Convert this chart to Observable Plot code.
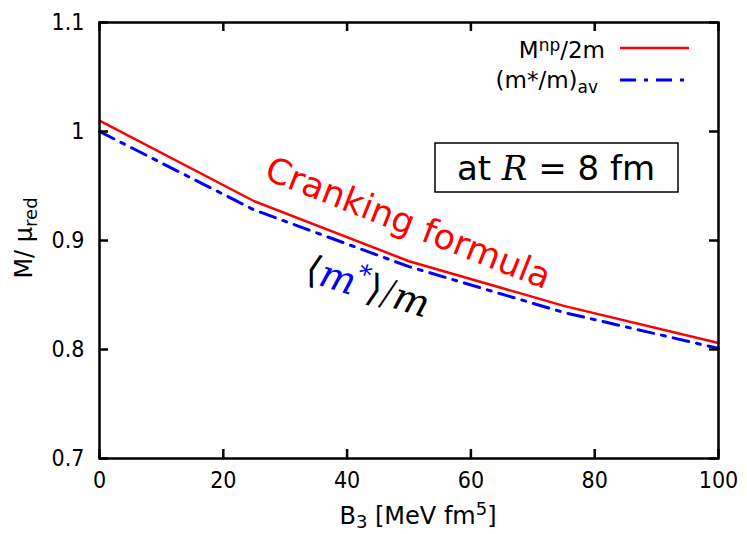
<!DOCTYPE html>
<html><head><meta charset="utf-8">
<script src="https://cdn.jsdelivr.net/npm/d3@7"></script>
<script src="https://cdn.jsdelivr.net/npm/@observablehq/plot@0.6"></script>
<style>body{margin:0;background:#fff}</style>
</head><body><div id="chart"></div>
<script>
// ---- data ----
const B3 = [0, 25, 50, 75, 100];
const crankingMass = [1.010, 0.936, 0.881, 0.840, 0.806];   // M^np / 2m
const effMassAv    = [1.000, 0.928, 0.876, 0.834, 0.801];   // (m*/m)_av
const xTicks = [0, 20, 40, 60, 80, 100];
const yTicks = [0.7, 0.8, 0.9, 1.0, 1.1];
const seriesColors = ["#ff0000", "#0000ff"];
const crankLabel = [{x: 49.2, y: 0.906, t: "Cranking formula"}];
const mstarLabelPos = {x: 32.9, y: 0.863};

// ---- layout ----
const W = 747, H = 534, mL = 99, mR = 29, mT = 22, mB = 76;
const pw = W - mL - mR, ph = H - mT - mB;
const condensed = '"DejaVu Sans Condensed","DejaVu Sans",sans-serif';
const sans = '"DejaVu Sans",sans-serif';
const serif = '"DejaVu Serif","Liberation Serif",serif';
const tickLen = 9;

const red = B3.map((b, i) => ({b, v: crankingMass[i]}));
const blue = B3.map((b, i) => ({b, v: effMassAv[i]}));

const plot = Plot.plot({
  width: W, height: H,
  marginLeft: mL, marginRight: mR, marginTop: mT, marginBottom: mB,
  x: {domain: [0, 100]},
  y: {domain: [0.7, 1.1]},
  style: {fontFamily: condensed, fontSize: "23px", color: "black", background: "white", overflow: "visible"},
  marks: [
    Plot.line(red, {x: "b", y: "v", stroke: seriesColors[0], strokeWidth: 2.5}),
    Plot.line(blue, {x: "b", y: "v", stroke: seriesColors[1], strokeWidth: 3, strokeDasharray: "16,8,4,8"}),
    Plot.tickX(xTicks, {x: d => d, insetTop: ph - tickLen, stroke: "black", strokeWidth: 2.5}),
    Plot.tickX(xTicks, {x: d => d, insetBottom: ph - tickLen, stroke: "black", strokeWidth: 2.5}),
    Plot.tickY(yTicks, {y: d => d, insetRight: pw - tickLen, stroke: "black", strokeWidth: 2.5}),
    Plot.tickY(yTicks, {y: d => d, insetLeft: pw - tickLen, stroke: "black", strokeWidth: 2.5}),
    Plot.frame({stroke: "black", strokeWidth: 2.5}),
    Plot.axisX(xTicks, {anchor: "bottom", tickSize: 0, tickPadding: 13, label: null, fontSize: 23}),
    Plot.axisY(yTicks, {anchor: "left", tickSize: 0, tickPadding: 15, label: null, fontSize: 23, tickFormat: d => String(+d.toFixed(1))}),
    Plot.text(crankLabel, {x: "x", y: "y", text: "t", rotate: 21.5, fill: seriesColors[0], fontSize: 35,
      fontFamily: sans, textAnchor: "middle", lineAnchor: "bottom"})
  ]
});
document.getElementById("chart").appendChild(plot);

const svg = d3.select(plot);
const sx = plot.scale("x"), sy = plot.scale("y");

// legend
const lg = svg.append("g").attr("font-family", sans).attr("font-size", 23);
const t1 = lg.append("text").attr("x", 605).attr("y", 58).attr("text-anchor", "end");
t1.append("tspan").text("M");
t1.append("tspan").attr("font-size", 17).attr("dy", -7).text("np");
t1.append("tspan").attr("dy", 7).text("/2m");
lg.append("line").attr("x1", 620).attr("x2", 689).attr("y1", 48).attr("y2", 48)
  .attr("stroke", seriesColors[0]).attr("stroke-width", 2.5);
const t2 = lg.append("text").attr("x", 598).attr("y", 88).attr("text-anchor", "end");
t2.append("tspan").text("(m*/m)");
t2.append("tspan").attr("font-size", 17).attr("dy", 5).text("av");
lg.append("line").attr("x1", 620).attr("x2", 689).attr("y1", 80).attr("y2", 80)
  .attr("stroke", seriesColors[1]).attr("stroke-width", 3).attr("stroke-dasharray", "16,8,4,8");

// box "at R = 8 fm"
svg.append("rect").attr("x", 435).attr("y", 143).attr("width", 243).attr("height", 49)
  .attr("fill", "white").attr("stroke", "black").attr("stroke-width", 1.5);
const tb = svg.append("text").attr("x", 556).attr("y", 180).attr("text-anchor", "middle")
  .attr("font-size", 34).attr("font-family", sans);
tb.append("tspan").text("at ");
tb.append("tspan").attr("font-family", serif).attr("font-style", "italic").text("R");
tb.append("tspan").attr("font-family", serif).text(" = ");
tb.append("tspan").text("8 fm");

// <m*>/m annotation
const mx = sx.apply(mstarLabelPos.x), my = sy.apply(mstarLabelPos.y);
const ta = svg.append("text").attr("transform", `translate(${mx},${my}) rotate(17)`)
  .attr("text-anchor", "start").attr("font-size", 38).attr("font-family", serif);
ta.append("tspan").attr("font-family", sans).attr("font-weight", 200).text("\u27E8");
ta.append("tspan").attr("font-style", "italic").attr("fill", seriesColors[1]).text("m");
ta.append("tspan").attr("fill", seriesColors[1]).attr("font-size", 26).attr("dy", -15).text("*");
ta.append("tspan").attr("dy", 15).attr("font-family", sans).attr("font-weight", 200).text("\u27E9/");
ta.append("tspan").attr("font-style", "italic").text("m");

// axis labels
const xl = svg.append("text").attr("x", 418).attr("y", 524).attr("text-anchor", "middle")
  .attr("font-family", sans).attr("font-size", 24);
xl.append("tspan").text("B");
xl.append("tspan").attr("font-size", 18).attr("dy", 4).text("3");
xl.append("tspan").attr("dy", -4).text(" [MeV fm");
xl.append("tspan").attr("font-size", 18).attr("dy", -9).text("5");
xl.append("tspan").attr("dy", 9).text("]");

const yl = svg.append("text").attr("transform", `translate(32,238) rotate(-90)`)
  .attr("text-anchor", "middle").attr("font-family", sans).attr("font-size", 24);
yl.append("tspan").text("M/ \u03BC");
yl.append("tspan").attr("font-size", 18).attr("dy", 5).text("red");
</script>
</body></html>
